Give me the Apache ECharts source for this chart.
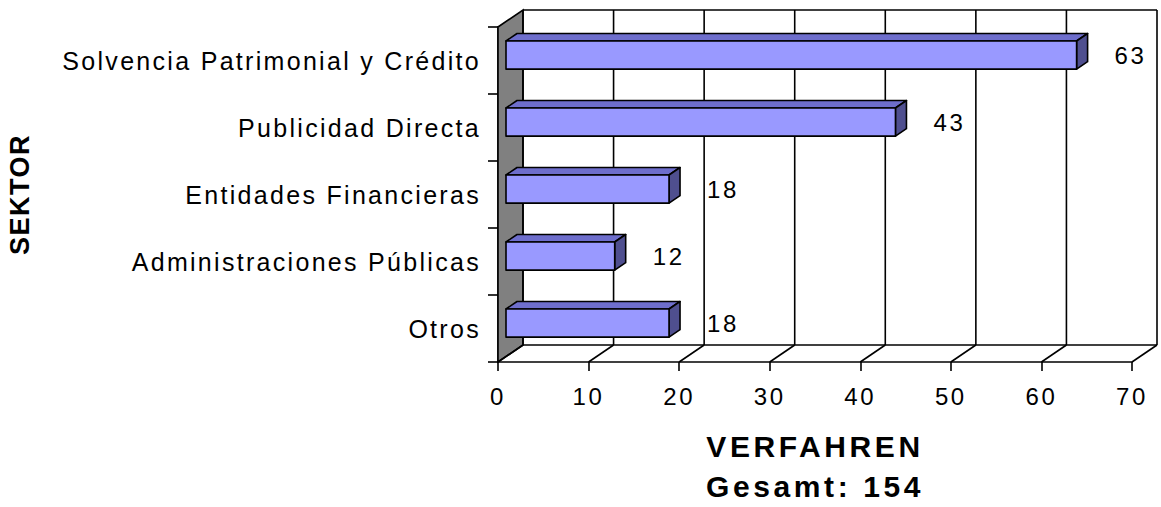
<!DOCTYPE html>
<html><head><meta charset="utf-8">
<script src="https://cdn.jsdelivr.net/npm/echarts@6/dist/echarts.min.js"></script>
<style>
html,body{margin:0;padding:0;background:#fff;}
#chart{width:1161px;height:507px;}
#chart text{letter-spacing:2.6px;}
#chart text[style*="25px"]{letter-spacing:2.3px;}
#chart text[style*="30px"]{letter-spacing:3.6px;}
#chart text[style*="27px"]{letter-spacing:1.5px;}
</style></head><body><div id="chart"></div>
<script>
// ---- data ----
const categories = ['Solvencia Patrimonial y Crédito', 'Publicidad Directa', 'Entidades Financieras', 'Administraciones Públicas', 'Otros'];
const values = [63, 43, 18, 12, 18];
const xTicks = [0, 10, 20, 30, 40, 50, 60, 70];
const xTitle = 'VERFAHREN\nGesamt: 154';
const yTitle = 'SEKTOR';

// ---- style constants ----
const DEPTH_X = 25, DEPTH_Y = -17;     // 3D depth offset in px
const FRONT = 0.32, BACK = 0.76;       // bar depth position (fraction)
const BAR_FRAC = 0.42;                 // bar thickness / band
const LABEL_DX = 38;
const C_FRONT = '#9999FF', C_TOP = '#6E6ECC', C_SIDE = '#4F4F8F', C_WALL = '#808080';
const LW = 1.6;
const FONT = 'Liberation Sans';

const chart = echarts.init(document.getElementById('chart'), null, {renderer: 'svg'});

function renderFrame(params, api) {
  const v = api.value(0);
  const cs = params.coordSys;
  const x = api.coord([v, 0])[0];
  const top = cs.y, bottom = cs.y + cs.height;
  const st = {stroke: '#000', lineWidth: LW, fill: null};
  const children = [
    {type: 'line', shape: {x1: x + DEPTH_X, y1: top + DEPTH_Y, x2: x + DEPTH_X, y2: bottom + DEPTH_Y}, style: st},
    {type: 'line', shape: {x1: x, y1: bottom, x2: x + DEPTH_X, y2: bottom + DEPTH_Y}, style: st}
  ];
  if (params.dataIndex === 0) {
    const xe = api.coord([xTicks[xTicks.length - 1], 0])[0];
    children.unshift({type: 'polygon', shape: {points: [[x, top], [x + DEPTH_X, top + DEPTH_Y], [x + DEPTH_X, bottom + DEPTH_Y], [x, bottom]]},
      style: {fill: C_WALL, stroke: '#000', lineWidth: LW}});
    children.push({type: 'line', shape: {x1: x + DEPTH_X, y1: top + DEPTH_Y, x2: xe + DEPTH_X, y2: top + DEPTH_Y}, style: st});
    children.push({type: 'line', shape: {x1: x + DEPTH_X, y1: bottom + DEPTH_Y, x2: xe + DEPTH_X, y2: bottom + DEPTH_Y}, style: st});
  }
  return {type: 'group', children};
}

function renderBar(params, api) {
  const cat = api.value(0), val = api.value(1);
  const p0 = api.coord([0, cat]), p1 = api.coord([val, cat]);
  const band = api.size([0, 1])[1];
  const h = band * BAR_FRAC;
  const fx = DEPTH_X * FRONT, fy = DEPTH_Y * FRONT;
  const sx = DEPTH_X * (BACK - FRONT), sy = DEPTH_Y * (BACK - FRONT);
  const x0 = p0[0] + fx, x1 = p1[0] + fx;
  const yc = p0[1] + fy, yt = yc - h / 2, yb = yc + h / 2;
  const st = {stroke: '#000', lineWidth: LW, lineJoin: 'round'};
  return {type: 'group', children: [
    {type: 'polygon', shape: {points: [[x0, yt], [x1, yt], [x1 + sx, yt + sy], [x0 + sx, yt + sy]]}, style: Object.assign({fill: C_TOP}, st)},
    {type: 'polygon', shape: {points: [[x1, yt], [x1 + sx, yt + sy], [x1 + sx, yb + sy], [x1, yb]]}, style: Object.assign({fill: C_SIDE}, st)},
    {type: 'rect', shape: {x: x0, y: yt, width: x1 - x0, height: h}, style: Object.assign({fill: C_FRONT}, st)},
    {type: 'text', x: x1 + LABEL_DX, y: yc, style: {text: String(val), fill: '#000', fontSize: 24, fontFamily: FONT, align: 'left', verticalAlign: 'middle'}}
  ]};
}

chart.setOption({
  animation: false,
  backgroundColor: '#fff',
  grid: {left: 498, right: 29, top: 27, bottom: 145, containLabel: false, outerBoundsMode: 'none'},
  xAxis: {
    type: 'value', min: 0, max: 70, interval: 10,
    splitLine: {show: false},
    axisLine: {show: true, lineStyle: {color: '#000', width: LW}},
    axisTick: {show: true, length: 9, lineStyle: {color: '#000', width: LW}},
    axisLabel: {color: '#000', fontSize: 24, fontFamily: FONT, margin: 22},
    name: xTitle, nameLocation: 'middle', nameGap: 64,
    nameTextStyle: {color: '#000', fontSize: 30, fontWeight: 'bold', fontFamily: FONT, lineHeight: 40}
  },
  yAxis: {
    type: 'category', data: categories, inverse: true,
    axisLine: {show: true, lineStyle: {color: '#000', width: LW}},
    axisTick: {show: true, length: 10, lineStyle: {color: '#000', width: LW}},
    axisLabel: {color: '#000', fontSize: 25, fontFamily: FONT, margin: 17, padding: [4, 0, 0, 0]},
    splitLine: {show: false},
    name: yTitle, nameLocation: 'middle', nameGap: 465,
    nameTextStyle: {color: '#000', fontSize: 27, fontWeight: 'bold', fontFamily: FONT}
  },
  series: [
    {type: 'custom', name: 'frame', silent: true, z: 1, renderItem: renderFrame,
      data: xTicks.map(t => [t]), encode: {x: 0}},
    {type: 'custom', name: 'Verfahren', z: 3, renderItem: renderBar,
      data: values.map((v, i) => [i, v]), encode: {x: 1, y: 0}}
  ]
});
</script></body></html>
